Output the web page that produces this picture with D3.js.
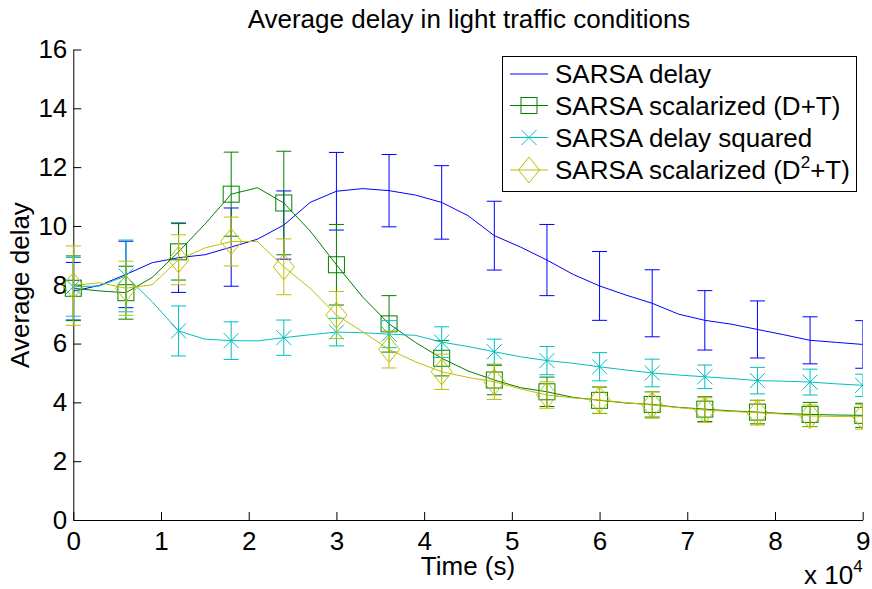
<!DOCTYPE html>
<html>
<head>
<meta charset="utf-8">
<script src="https://cdn.jsdelivr.net/npm/d3@7"></script>
<style>
  body { margin: 0; background: #fff; }
  svg { display: block; }
  text { font-family: "Liberation Sans", Arial, Helvetica, sans-serif; fill: #000; }
</style>
</head>
<body>
<svg id="chart" width="872" height="589"></svg>
<script>
// Simulation time (s) of every sample on the curves
const lineTimes = [0, 3000, 6000, 9000, 12000, 15000, 18000, 21000, 24000, 27000, 30000,
  33000, 36000, 39000, 42000, 45000, 48000, 51000, 54000, 57000, 60000,
  63000, 66000, 69000, 72000, 75000, 78000, 81000, 84000, 87000, 90000];

// Average delay per controller
const sarsaDelay = [7.78, 7.98, 8.35, 8.75, 8.92, 9.02, 9.28, 9.55, 10.03, 10.8, 11.18,
  11.27, 11.2, 11.05, 10.8, 10.35, 9.67, 9.28, 8.84, 8.35, 7.96,
  7.65, 7.37, 7.0, 6.79, 6.66, 6.48, 6.3, 6.11, 6.04, 5.97];
const scalarizedDT = [7.88, 7.79, 7.73, 8.25, 9.12, 10.06, 11.08, 11.3, 10.78, 9.83, 8.68,
  7.58, 6.67, 6.04, 5.5, 5.07, 4.76, 4.5, 4.36, 4.17, 4.07,
  3.98, 3.93, 3.83, 3.77, 3.71, 3.67, 3.62, 3.59, 3.57, 3.56];
const delaySquared = [7.93, 7.96, 8.3, 7.42, 6.43, 6.15, 6.1, 6.09, 6.2, 6.3, 6.39,
  6.37, 6.32, 6.28, 6.05, 5.9, 5.72, 5.55, 5.42, 5.33, 5.21,
  5.1, 5.0, 4.93, 4.87, 4.81, 4.74, 4.72, 4.69, 4.63, 4.58];
const scalarizedD2T = [7.97, 8.07, 7.88, 8.0, 8.85, 9.25, 9.47, 9.47, 8.61, 7.88, 6.97,
  6.4, 5.8, 5.38, 5.04, 4.85, 4.7, 4.46, 4.25, 4.15, 4.08,
  3.99, 3.91, 3.82, 3.74, 3.69, 3.65, 3.6, 3.54, 3.52, 3.51];

// Times carrying a marker and an error bar
const markerTimes = [0, 6000, 12000, 18000, 24000, 30000, 36000, 42000, 48000,
  54000, 60000, 66000, 72000, 78000, 84000, 90000];

// Error bar half-widths at the marker times
const errDelay = [0.98, 1.13, 1.18, 1.33, 1.16, 1.32, 1.23, 1.25, 1.17, 1.21, 1.17, 1.14, 1.01, 0.97, 0.8, 0.81];
const errDT = [1.1, 0.9, 0.96, 1.43, 1.76, 1.37, 0.96, 0.6, 0.5, 0.5, 0.45, 0.43, 0.42, 0.4, 0.41, 0.41];
const errSquared = [1.0, 1.22, 0.85, 0.64, 0.6, 0.47, 0.46, 0.52, 0.43, 0.48, 0.48, 0.47, 0.4, 0.45, 0.44, 0.38];
const errD2T = [1.35, 0.92, 0.85, 0.83, 0.95, 0.8, 0.63, 0.6, 0.6, 0.45, 0.45, 0.45, 0.42, 0.42, 0.37, 0.42];

// Axis ticks
const xTickValues = [0, 10000, 20000, 30000, 40000, 50000, 60000, 70000, 80000, 90000];
const xTickLabels = ["0", "1", "2", "3", "4", "5", "6", "7", "8", "9"];
const yTickValues = [0, 2, 4, 6, 8, 10, 12, 14, 16];

const seriesNames = ["SARSA delay", "SARSA scalarized (D+T)", "SARSA delay squared", "SARSA scalarized (D2+T)"];

const series = [
  { name: seriesNames[0], values: sarsaDelay, err: errDelay, color: "#0000ff", marker: "none" },
  { name: seriesNames[1], values: scalarizedDT, err: errDT, color: "#008000", marker: "square" },
  { name: seriesNames[2], values: delaySquared, err: errSquared, color: "#00bfbf", marker: "x" },
  { name: seriesNames[3], values: scalarizedD2T, err: errD2T, color: "#bfbf00", marker: "diamond" }
];

const W = 872, H = 589;
const plot = { left: 73.3, right: 862.7, top: 49.5, bottom: 520 };
const FONT = 26;

const svg = d3.select("#chart");

const x = d3.scaleLinear().domain([0, 90000]).range([plot.left, plot.right]);
const y = d3.scaleLinear().domain([0, 16]).range([plot.bottom, plot.top]);

svg.append("defs").append("clipPath").attr("id", "plotClip")
  .append("rect").attr("x", 0).attr("y", 0).attr("width", plot.right).attr("height", H);

// Axes (ticks point into the plot)
const gx = svg.append("g")
  .attr("transform", `translate(0,${plot.bottom})`)
  .call(d3.axisBottom(x).tickValues(xTickValues)
    .tickFormat((d, i) => xTickLabels[i])
    .tickSizeInner(-8).tickSizeOuter(0).tickPadding(12));
const gy = svg.append("g")
  .attr("transform", `translate(${plot.left},0)`)
  .call(d3.axisLeft(y).tickValues(yTickValues)
    .tickFormat(d3.format("d"))
    .tickSizeInner(-8).tickSizeOuter(0).tickPadding(6));
[gx, gy].forEach(g => {
  g.attr("font-family", null).attr("font-size", FONT);
  g.selectAll("path.domain, line").attr("stroke", "#000").attr("stroke-width", 1);
  g.selectAll("text").attr("fill", "#000");
});

// Data layer
const data = svg.append("g").attr("clip-path", "url(#plotClip)");
const lineGen = d3.line().x((d, i) => x(lineTimes[i])).y(d => y(d));

function drawMarker(g, type, cx, cy, color) {
  if (type === "square") {
    g.append("rect").attr("x", cx - 8).attr("y", cy - 8).attr("width", 16).attr("height", 16)
      .attr("fill", "none").attr("stroke", color).attr("stroke-width", 1);
  } else if (type === "diamond") {
    g.append("path")
      .attr("d", `M${cx},${cy - 13}L${cx + 10.5},${cy}L${cx},${cy + 13}L${cx - 10.5},${cy}Z`)
      .attr("fill", "none").attr("stroke", color).attr("stroke-width", 1);
  } else if (type === "x") {
    const r = 7.5;
    g.append("path")
      .attr("d", `M${cx - r},${cy - r}L${cx + r},${cy + r}M${cx - r},${cy + r}L${cx + r},${cy - r}`)
      .attr("fill", "none").attr("stroke", color).attr("stroke-width", 1);
  }
}

series.forEach(s => {
  const g = data.append("g");
  g.append("path").attr("d", lineGen(s.values))
    .attr("fill", "none").attr("stroke", s.color).attr("stroke-width", 1);

  markerTimes.forEach((t, k) => {
    const v = s.values[lineTimes.indexOf(t)];
    const cx = x(t);
    const hi = y(v + s.err[k]), lo = y(v - s.err[k]);
    g.append("path")
      .attr("d", `M${cx},${hi}L${cx},${lo}M${cx - 7.5},${hi}L${cx + 7.5},${hi}M${cx - 7.5},${lo}L${cx + 7.5},${lo}`)
      .attr("fill", "none").attr("stroke", s.color).attr("stroke-width", 1);
    drawMarker(g, s.marker, cx, y(v), s.color);
  });
});

// Titles and axis labels
svg.append("text").attr("x", 469).attr("y", 28).attr("text-anchor", "middle")
  .attr("font-size", FONT).text("Average delay in light traffic conditions");
svg.append("text").attr("x", 468).attr("y", 575).attr("text-anchor", "middle")
  .attr("font-size", FONT).text("Time (s)");
svg.append("text").attr("transform", "translate(29,285) rotate(-90)")
  .attr("text-anchor", "middle").attr("font-size", FONT).text("Average delay");

// Axis multiplier
const mult = svg.append("text").attr("x", 804).attr("y", 584).attr("font-size", FONT);
mult.append("tspan").text("x 10");
mult.append("tspan").attr("dy", -12).attr("font-size", 17).text("4");

// Legend
const lg = svg.append("g");
lg.append("rect").attr("x", 502.5).attr("y", 56.5).attr("width", 354).attr("height", 135)
  .attr("fill", "#fff").attr("stroke", "#000").attr("stroke-width", 1);
const rowY = [74, 105.5, 137.5, 170];
series.forEach((s, i) => {
  const cy = rowY[i];
  lg.append("line").attr("x1", 510).attr("x2", 548).attr("y1", cy).attr("y2", cy)
    .attr("stroke", s.color).attr("stroke-width", 1);
  drawMarker(lg, s.marker, 529, cy, s.color);
  const t = lg.append("text").attr("x", 555).attr("y", cy + 9).attr("font-size", FONT);
  if (i === 3) {
    t.append("tspan").text("SARSA scalarized (D");
    t.append("tspan").attr("dy", -11).attr("font-size", 17).text("2");
    t.append("tspan").attr("dy", 11).text("+T)");
  } else {
    t.text(s.name);
  }
});
</script>
</body>
</html>
